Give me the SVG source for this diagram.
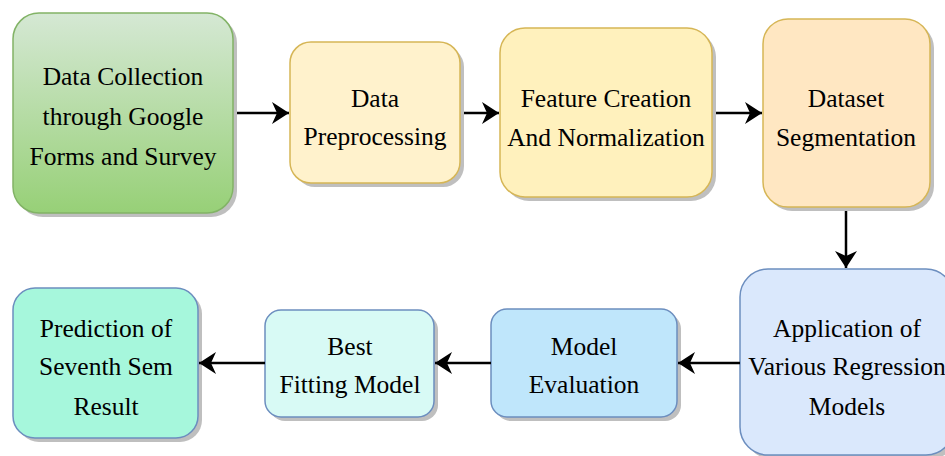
<svg xmlns="http://www.w3.org/2000/svg" width="945" height="456" viewBox="0 0 945 456">
<defs>
<linearGradient id="g1" x1="0" y1="0" x2="0" y2="1">
<stop offset="0" stop-color="#d5e8d4"/>
<stop offset="1" stop-color="#97d077"/>
</linearGradient>
<marker id="arr" markerUnits="userSpaceOnUse" markerWidth="18" markerHeight="22" refX="17" refY="11" orient="auto">
<path d="M0,0 L17,11 L0,22 L5,11 Z" fill="#000"/>
</marker>
</defs>
<style>
.sh{fill:#bfbfbf}
.t{font-family:"Liberation Serif","Times New Roman",serif;font-size:25.5px;fill:#000;text-anchor:middle}
.y{stroke:#d6b656;stroke-width:1.5}
.b{stroke:#6c8ebf;stroke-width:1.5}
.c{fill:none;stroke:#000;stroke-width:2.5;marker-end:url(#arr)}
</style>
<rect width="945" height="456" fill="#fff"/>
<g id="n1">
<rect class="sh" x="17" y="17" width="220" height="200" rx="26"/>
<rect x="13" y="13" width="220" height="200" rx="26" fill="url(#g1)" stroke="#82b366" stroke-width="1.5"/>
<text class="t" x="123" y="85">Data Collection</text>
<text class="t" x="123" y="125">through Google</text>
<text class="t" x="123" y="165">Forms and Survey</text>
</g>
<g id="n2">
<rect class="sh" x="294" y="46" width="170" height="141" rx="21"/>
<rect class="y" x="290" y="42" width="170" height="141" rx="21" fill="#fff2cc"/>
<text class="t" x="375" y="107">Data</text>
<text class="t" x="375" y="145">Preprocessing</text>
</g>
<g id="n3">
<rect class="sh" x="504" y="32" width="212" height="169" rx="25"/>
<rect class="y" x="500" y="28" width="212" height="169" rx="25" fill="#fff1bd"/>
<text class="t" x="606" y="107">Feature Creation</text>
<text class="t" x="606" y="146">And Normalization</text>
</g>
<g id="n4">
<rect class="sh" x="767" y="23" width="167" height="188" rx="25"/>
<rect class="y" x="763" y="19" width="167" height="188" rx="25" fill="#ffe7c2"/>
<text class="t" x="846" y="107">Dataset</text>
<text class="t" x="846" y="146">Segmentation</text>
</g>
<g id="n5">
<rect class="sh" x="744" y="273" width="214" height="186" rx="28"/>
<rect class="b" x="740" y="269" width="214" height="186" rx="28" fill="#dae8fc"/>
<text class="t" x="847" y="337">Application of</text>
<text class="t" x="847" y="375">Various Regression</text>
<text class="t" x="847" y="415">Models</text>
</g>
<g id="n6">
<rect class="sh" x="495" y="313" width="186" height="108" rx="16"/>
<rect class="b" x="491" y="309" width="186" height="108" rx="16" fill="#bfe6fb"/>
<text class="t" x="584" y="355">Model</text>
<text class="t" x="584" y="393">Evaluation</text>
</g>
<g id="n7">
<rect class="sh" x="269" y="314" width="169" height="107" rx="16"/>
<rect class="b" x="265" y="310" width="169" height="107" rx="16" fill="#d8faf5"/>
<text class="t" x="350" y="355">Best</text>
<text class="t" x="350" y="393">Fitting Model</text>
</g>
<g id="n8">
<rect class="sh" x="17" y="292" width="185" height="150" rx="22"/>
<rect class="b" x="13" y="288" width="185" height="150" rx="22" fill="#a6f7dc"/>
<text class="t" x="106" y="337">Prediction of</text>
<text class="t" x="106" y="375">Seventh Sem</text>
<text class="t" x="106" y="415">Result</text>
</g>
<g id="connectors">
<path class="c" d="M237,113 H289"/>
<path class="c" d="M464,113 H499"/>
<path class="c" d="M716,113 H762"/>
<path class="c" d="M846,211 V268"/>
<path class="c" d="M740,363 H678"/>
<path class="c" d="M491,363 H435"/>
<path class="c" d="M265,363 H199"/>
</g>
</svg>
